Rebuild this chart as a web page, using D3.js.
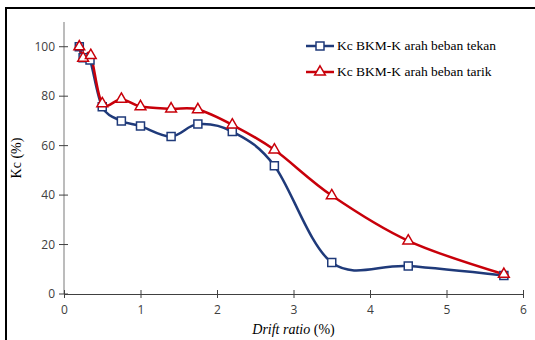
<!DOCTYPE html>
<html>
<head>
<meta charset="utf-8">
<script src="https://cdn.jsdelivr.net/npm/d3@7"></script>
<style>
  html, body { margin: 0; padding: 0; background: #fff; }
  svg { display: block; }
</style>
</head>
<body>
<svg id="chart" width="535" height="340"></svg>
<script>
// Drift ratio (%) at each load step
const driftTekan = [0.2, 0.25, 0.34, 0.5, 0.75, 1.0, 1.4, 1.75, 2.2, 2.75, 3.5, 4.5, 5.75];
const kcTekan    = [100, 95.5, 94.6, 75.7, 70, 67.9, 63.7, 68.7, 65.7, 51.9, 12.7, 11.3, 7.5];
const driftTarik = [0.2, 0.25, 0.35, 0.5, 0.75, 1.0, 1.4, 1.75, 2.2, 2.75, 3.5, 4.5, 5.75];
const kcTarik    = [100, 95.4, 96.5, 77, 78.8, 75.8, 74.9, 74.6, 68.4, 58.3, 39.8, 21.5, 8];
const xTicks = [0, 1, 2, 3, 4, 5, 6];
const yTicks = [0, 20, 40, 60, 80, 100];
const seriesNames = ["Kc BKM-K arah beban tekan", "Kc BKM-K arah beban tarik"];

const svg = d3.select("#chart");
const W = 535, H = 340;

// outer frame (left and top edges)
svg.append("line").attr("x1", 6).attr("y1", 8).attr("x2", 6).attr("y2", H)
  .attr("stroke", "#000").attr("stroke-width", 2);
svg.append("line").attr("x1", 5).attr("y1", 8).attr("x2", W).attr("y2", 8)
  .attr("stroke", "#000").attr("stroke-width", 2);

const x = d3.scaleLinear().domain([0, 6]).range([64, 523]);
const y = d3.scaleLinear().domain([0, 110]).range([294, 22]);

const tickFont = "'Open Sans', sans-serif";
const serif = "'Liberation Serif', 'Times New Roman', serif";

// y axis: grey spine, dark crossing ticks
svg.append("line").attr("x1", x(0)).attr("x2", x(0)).attr("y1", y(0)).attr("y2", y(110))
  .attr("stroke", "#a6a6a6").attr("stroke-width", 1.5);
const yg = svg.append("g");
yTicks.forEach(t => {
  yg.append("line").attr("x1", x(0) - 5).attr("x2", x(0) + 4)
    .attr("y1", y(t)).attr("y2", y(t)).attr("stroke", "#404040").attr("stroke-width", 1);
  yg.append("text").attr("x", x(0) - 9).attr("y", y(t)).attr("dy", "0.35em")
    .attr("text-anchor", "end").attr("font-family", tickFont).attr("font-size", 12)
    .attr("fill", "#404040").text(t);
});

// x axis
const xAxis = d3.axisBottom(x).tickValues(xTicks).tickSize(0).tickPadding(11)
  .tickFormat(d3.format("d"));
const xg = svg.append("g").attr("transform", `translate(0,${y(0)})`).call(xAxis);
xg.select(".domain").attr("stroke", "#404040").attr("stroke-width", 1.2);
xg.selectAll(".tick text").attr("font-family", tickFont).attr("font-size", 12).attr("fill", "#404040");
xg.selectAll(".tick").append("line").attr("y1", -4).attr("y2", 4)
  .attr("stroke", "#404040").attr("stroke-width", 1);

// axis titles
svg.append("text").attr("transform", `translate(21,${y(55)}) rotate(-90)`)
  .attr("text-anchor", "middle").attr("font-family", serif).attr("font-size", 14)
  .attr("fill", "#000").text("Kc (%)");
const xt = svg.append("text").attr("x", x(3)).attr("y", 334).attr("text-anchor", "middle")
  .attr("font-family", serif).attr("font-size", 14).attr("fill", "#000");
xt.append("tspan").attr("font-style", "italic").text("Drift ratio");
xt.append("tspan").text(" (%)");

const blue = "#1f3a7a", red = "#c8000a";
const line = d3.line().x(d => x(d[0])).y(d => y(d[1])).curve(d3.curveCatmullRom.alpha(0));

const dataTekan = driftTekan.map((d, i) => [d, kcTekan[i]]);
const dataTarik = driftTarik.map((d, i) => [d, kcTarik[i]]);

svg.append("path").datum(dataTekan).attr("d", line).attr("fill", "none")
  .attr("stroke", blue).attr("stroke-width", 2.5);
svg.append("path").datum(dataTarik).attr("d", line).attr("fill", "none")
  .attr("stroke", red).attr("stroke-width", 2.5);

const sq = d3.symbol().type(d3.symbolSquare).size(64);
const tri = d3.symbol().type(d3.symbolTriangle).size(50);

svg.append("g").selectAll("path").data(dataTekan).join("path")
  .attr("d", sq).attr("transform", d => `translate(${x(d[0])},${y(d[1])})`)
  .attr("fill", "#fff").attr("stroke", blue).attr("stroke-width", 1.5);
svg.append("g").selectAll("path").data(dataTarik).join("path")
  .attr("d", tri).attr("transform", d => `translate(${x(d[0])},${y(d[1])})`)
  .attr("fill", "#fff").attr("stroke", red).attr("stroke-width", 1.5);

// legend
const legend = [{name: seriesNames[0], color: blue, sym: sq, dy: 46},
                {name: seriesNames[1], color: red, sym: tri, dy: 72}];
legend.forEach(l => {
  svg.append("line").attr("x1", 306).attr("x2", 334).attr("y1", l.dy).attr("y2", l.dy)
    .attr("stroke", l.color).attr("stroke-width", 2.5);
  svg.append("path").attr("d", l.sym).attr("transform", `translate(320,${l.dy})`)
    .attr("fill", "#fff").attr("stroke", l.color).attr("stroke-width", 1.5);
  svg.append("text").attr("x", 337).attr("y", l.dy).attr("dy", "0.33em")
    .attr("font-family", serif).attr("font-size", 13.5).attr("fill", "#000").text(l.name);
});
</script>
</body>
</html>
